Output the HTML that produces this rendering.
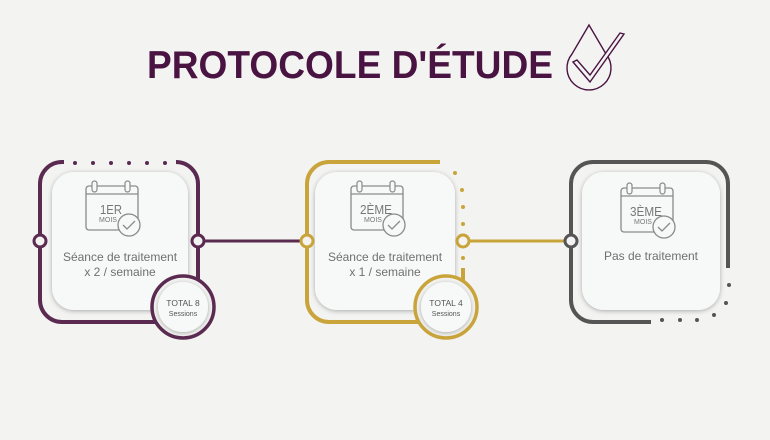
<!DOCTYPE html>
<html><head><meta charset="utf-8"><style>
html,body{margin:0;padding:0;background:#f3f3f2;}
svg{display:block}
text{font-family:"Liberation Sans",sans-serif}
</style></head><body>
<svg width="770" height="440" viewBox="0 0 770 440" xmlns="http://www.w3.org/2000/svg">
<defs>
<filter id="sh" x="-20%" y="-20%" width="140%" height="140%"><feDropShadow dx="0" dy="1" stdDeviation="2.5" flood-color="#000" flood-opacity="0.3"/></filter>
<g id="cal">
<rect x="0" y="5" width="52" height="44" rx="3" fill="none" stroke="#8a8a8a" stroke-width="1.3"/>
<line x1="0" y1="13" x2="52" y2="13" stroke="#8a8a8a" stroke-width="1.3"/>
<rect x="6" y="0" width="5" height="11" rx="2.5" fill="#f7f8f8" stroke="#8a8a8a" stroke-width="1.2"/>
<rect x="39" y="0" width="5" height="11" rx="2.5" fill="#f7f8f8" stroke="#8a8a8a" stroke-width="1.2"/>
<circle cx="43" cy="44" r="11" fill="#f7f8f8" stroke="#8a8a8a" stroke-width="1.3"/>
<path d="M37 44 l4 4 l8 -8" fill="none" stroke="#8a8a8a" stroke-width="1.3"/>
</g>
</defs>

<!-- title -->
<text x="147" y="78" font-size="39" font-weight="bold" fill="#4a1442" textLength="406" lengthAdjust="spacingAndGlyphs">PROTOCOLE D'ÉTUDE</text>
<g fill="none" stroke="#4a1442" stroke-width="1.4">
<path d="M589 25 L572 54 A22 22 0 1 0 606 54 Z"/>
<path d="M573 62 L590 82 L624 34 L620 33 L590 75 L577 60 Z" fill="#f3f3f2"/>
</g>

<!-- connectors -->
<line x1="198" y1="241" x2="307" y2="241" stroke="#5a2a50" stroke-width="3"/>
<line x1="463" y1="241" x2="571" y2="241" stroke="#c9a43a" stroke-width="3"/>

<!-- card 1 -->
<path d="M64 162 H62 A22 22 0 0 0 40 184 V300 A22 22 0 0 0 62 322 H176 A22 22 0 0 0 198 300 V184 A22 22 0 0 0 176 162" fill="none" stroke="#5a2a50" stroke-width="4"/>
<g fill="#5a2a50"><circle cx="75" cy="163" r="2"/><circle cx="93" cy="163" r="2"/><circle cx="111" cy="163" r="2"/><circle cx="129" cy="163" r="2"/><circle cx="147" cy="163" r="2"/><circle cx="165" cy="163" r="2"/></g>
<rect x="52" y="172" width="136" height="138" rx="22" fill="#f7f8f8" filter="url(#sh)"/>
<use href="#cal" x="86" y="181"/>
<text x="111" y="214" font-size="13" fill="#777" text-anchor="middle" textLength="22" lengthAdjust="spacingAndGlyphs">1ER</text>
<text x="108" y="222" font-size="7" fill="#777" text-anchor="middle">MOIS</text>
<text x="120" y="261" font-size="12" fill="#707070" text-anchor="middle">Séance de traitement</text>
<text x="120" y="276" font-size="12" fill="#707070" text-anchor="middle">x 2 / semaine</text>
<circle cx="183" cy="307" r="31" fill="#f3f3f2" stroke="#5a2a50" stroke-width="3.5"/>
<circle cx="183" cy="307" r="25" fill="#f7f8f8" filter="url(#sh)"/>
<text x="183" y="306" font-size="8.5" fill="#555" text-anchor="middle">TOTAL 8</text>
<text x="183" y="316" font-size="7" fill="#555" text-anchor="middle">Sessions</text>
<circle cx="40" cy="241" r="6" fill="#f3f3f2" stroke="#5a2a50" stroke-width="3"/>
<circle cx="198" cy="241" r="6" fill="#f3f3f2" stroke="#5a2a50" stroke-width="3"/>

<!-- card 2 -->
<path d="M440 162 H329 A22 22 0 0 0 307 184 V300 A22 22 0 0 0 329 322 H441 A22 22 0 0 0 463 300 V268" fill="none" stroke="#c9a43a" stroke-width="4"/>
<g fill="#c9a43a"><circle cx="455" cy="173" r="2"/><circle cx="462" cy="190" r="2"/><circle cx="463" cy="207" r="2"/><circle cx="463" cy="224" r="2"/><circle cx="463" cy="258" r="2"/></g>
<rect x="315" y="172" width="140" height="138" rx="22" fill="#f7f8f8" filter="url(#sh)"/>
<use href="#cal" x="351" y="181"/>
<text x="376" y="214" font-size="13" fill="#777" text-anchor="middle" textLength="32" lengthAdjust="spacingAndGlyphs">2ÈME</text>
<text x="373" y="222" font-size="7" fill="#777" text-anchor="middle">MOIS</text>
<text x="385" y="261" font-size="12" fill="#707070" text-anchor="middle">Séance de traitement</text>
<text x="385" y="276" font-size="12" fill="#707070" text-anchor="middle">x 1 / semaine</text>
<circle cx="446" cy="307" r="31" fill="#f3f3f2" stroke="#c9a43a" stroke-width="3.5"/>
<circle cx="446" cy="307" r="25" fill="#f7f8f8" filter="url(#sh)"/>
<text x="446" y="306" font-size="8.5" fill="#555" text-anchor="middle">TOTAL 4</text>
<text x="446" y="316" font-size="7" fill="#555" text-anchor="middle">Sessions</text>
<circle cx="307" cy="241" r="6" fill="#f3f3f2" stroke="#c9a43a" stroke-width="3"/>
<circle cx="463" cy="241" r="6" fill="#f3f3f2" stroke="#c9a43a" stroke-width="3"/>

<!-- card 3 -->
<path d="M651 322 H593 A22 22 0 0 1 571 300 V184 A22 22 0 0 1 593 162 H706 A22 22 0 0 1 728 184 V268" fill="none" stroke="#555" stroke-width="4"/>
<g fill="#555"><circle cx="729" cy="285" r="2"/><circle cx="726" cy="303" r="2"/><circle cx="714" cy="315" r="2"/><circle cx="697" cy="320" r="2"/><circle cx="680" cy="320" r="2"/><circle cx="662" cy="320" r="2"/></g>
<rect x="582" y="172" width="138" height="138" rx="22" fill="#f7f8f8" filter="url(#sh)"/>
<use href="#cal" x="621" y="183"/>
<text x="646" y="216" font-size="13" fill="#777" text-anchor="middle" textLength="32" lengthAdjust="spacingAndGlyphs">3ÈME</text>
<text x="643" y="224" font-size="7" fill="#777" text-anchor="middle">MOIS</text>
<text x="651" y="260" font-size="12" fill="#707070" text-anchor="middle">Pas de traitement</text>
<circle cx="571" cy="241" r="6" fill="#f3f3f2" stroke="#555" stroke-width="3"/>
</svg>
</body></html>
